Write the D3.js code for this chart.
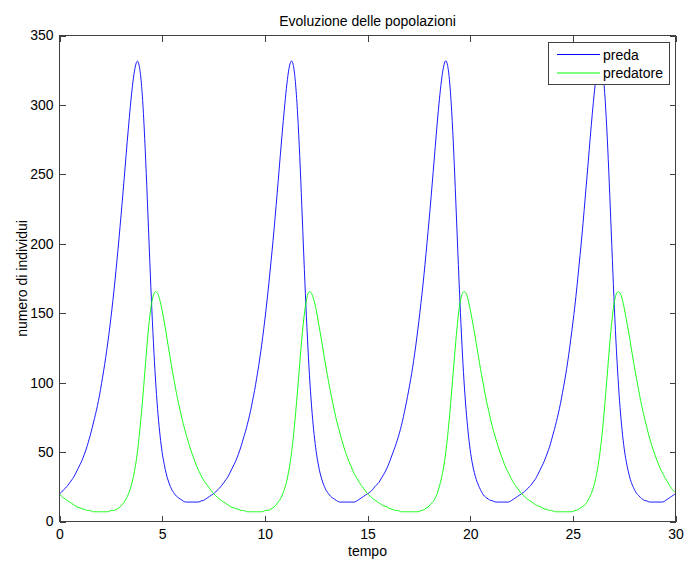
<!DOCTYPE html>
<html><head><meta charset="utf-8">
<script src="https://cdn.jsdelivr.net/npm/d3@7"></script>
<style>body{margin:0;background:#fff}svg{display:block}text{font-family:"Liberation Sans",Arial,Helvetica,sans-serif}</style>
</head><body><div id="chart"></div>
<script>
// ---- data (sampled every 0.1 time units, t = 0 .. 30) ----
const tStep = 0.1;
const prey = [
20,21,23,24,26,28,30,32,35,38,41,44,48,52,57,62,68,74,80,87,
95,104,113,123,134,146,159,173,188,204,221,238,256,274,291,307,320,329,333,328,
315,292,260,224,186,151,121,96,76,61,49,41,34,29,25,22,20,18,17,16,
15,14,14,14,14,14,14,14,14,15,15,16,17,18,19,20,21,23,24,26,
28,30,32,35,38,41,44,48,52,57,62,67,73,79,87,94,103,112,122,133,
145,158,172,187,202,219,236,254,272,289,305,319,329,333,329,316,294,264,228,190,
155,124,98,78,62,50,41,34,29,25,22,20,18,17,16,15,14,14,14,14,
14,14,14,14,14,15,16,17,18,19,20,21,22,24,26,27,29,32,34,37,
40,44,48,52,56,61,66,72,79,86,94,102,111,121,132,144,157,170,185,201,
217,234,252,270,288,304,318,328,333,330,318,297,267,231,194,158,127,100,80,64,
51,42,35,30,26,23,20,18,17,16,15,15,14,14,14,14,14,14,14,14,
15,16,17,18,19,20,21,22,24,25,27,29,31,34,37,40,43,47,51,55,
61,66,72,78,85,93,101,110,120,131,143,155,169,184,199,215,233,250,268,286,
302,317,327,333,331,320,299,270,235,198,161,129,103,81,65,52,43,36,30,26,
23,20,19,17,16,15,15,14,14,14,14,14,14,14,14,15,16,17,18,19,
20];
const predator = [
20,18,17,16,15,14,13,12,11,10,10,9,9,8,8,8,7,7,7,7,
7,7,7,7,7,8,8,8,9,10,11,13,15,18,21,26,32,40,50,64,
79,97,116,134,149,159,165,166,164,159,152,144,135,126,117,108,100,92,85,78,
72,66,61,56,51,47,43,39,36,33,30,28,26,24,22,20,19,17,16,15,
14,13,12,11,10,10,9,9,8,8,8,7,7,7,7,7,7,7,7,7,
8,8,8,9,10,11,13,15,17,21,25,31,39,49,62,78,95,114,132,147,
158,165,166,164,159,153,144,136,127,118,109,101,93,86,79,72,67,61,56,51,
47,43,40,36,33,31,28,26,24,22,20,19,17,16,15,14,13,12,11,11,
10,9,9,8,8,8,7,7,7,7,7,7,7,7,7,7,8,8,9,10,
11,13,14,17,20,25,31,38,48,61,76,94,112,130,146,158,164,166,165,160,
153,145,137,128,119,110,102,94,86,80,73,67,62,57,52,48,44,40,37,34,
31,28,26,24,22,20,19,17,16,15,14,13,12,11,11,10,9,9,8,8,
8,7,7,7,7,7,7,7,7,7,7,8,8,9,10,11,12,14,17,20,
24,30,37,47,59,74,92,110,129,145,157,164,166,165,161,154,146,138,129,120,
111,103,95,87,80,74,68,62,57,52,48,44,40,37,34,31,29,26,24,22,
21];
const xTicks = [0,5,10,15,20,25,30];
const yTicks = [0,50,100,150,200,250,300,350];
const seriesNames = ["preda","predatore"];
const seriesColors = ["#0000ff","#00ff00"];
const title = "Evoluzione delle popolazioni";
const xLabel = "tempo";
const yLabel = "numero di individui";

// ---- chart ----
const W = 685, H = 561;
const L = 59.5, R = 675.5, T = 35.5, B = 521.5;
const axisColor = "#404040";
const svg = d3.select("#chart").append("svg").attr("width", W).attr("height", H);
const x = d3.scaleLinear().domain([0, 30]).range([L, R]);
const y = d3.scaleLinear().domain([0, 350]).range([B, T]);

const fontSize = "14px";
function styleAxis(g){
  g.select(".domain").remove();
  g.selectAll(".tick line").attr("stroke", axisColor).attr("shape-rendering","crispEdges");
  g.selectAll(".tick text").attr("fill","#000").style("font-size", fontSize).style("font-family",'"Liberation Sans",Arial,sans-serif');
}
svg.append("g").attr("transform", `translate(0,${B})`)
  .call(d3.axisBottom(x).tickValues(xTicks).tickSize(-6).tickPadding(8).tickFormat(d3.format("d"))).call(styleAxis);
svg.append("g").attr("transform", `translate(0,${T})`)
  .call(d3.axisTop(x).tickValues(xTicks).tickSize(-6).tickFormat("")).call(styleAxis);
svg.append("g").attr("transform", `translate(${L},0)`)
  .call(d3.axisLeft(y).tickValues(yTicks).tickSize(-6).tickPadding(6).tickFormat(d3.format("d"))).call(styleAxis);
svg.append("g").attr("transform", `translate(${R},0)`)
  .call(d3.axisRight(y).tickValues(yTicks).tickSize(-6).tickFormat("")).call(styleAxis);

// plot clip
svg.append("clipPath").attr("id","clip").append("rect").attr("x",L).attr("y",T).attr("width",R-L).attr("height",B-T);

const line = d3.line().x((d,i)=>x(i*tStep)).y(d=>y(d)).curve(d3.curveBasis);
[prey, predator].forEach((s,k)=>{
  svg.append("path").datum(s).attr("d", line).attr("fill","none")
    .attr("stroke", seriesColors[k]).attr("stroke-width", 0.9).attr("clip-path","url(#clip)");
});

// box
svg.append("rect").attr("x",L).attr("y",T).attr("width",R-L).attr("height",B-T)
  .attr("fill","none").attr("stroke",axisColor).attr("stroke-width",1).attr("shape-rendering","crispEdges");

// title and labels
svg.append("text").attr("x",(L+R)/2).attr("y",26).attr("text-anchor","middle").style("font-size",fontSize).text(title);
svg.append("text").attr("x",(L+R)/2).attr("y",556).attr("text-anchor","middle").style("font-size",fontSize).text(xLabel);
svg.append("text").attr("transform",`translate(26.5,${(T+B)/2}) rotate(-90)`).attr("text-anchor","middle").style("font-size",fontSize).text(yLabel);

// legend
const lg = svg.append("g");
lg.append("rect").attr("x",548.5).attr("y",42.5).attr("width",121).attr("height",42)
  .attr("fill","#fff").attr("stroke",axisColor).attr("shape-rendering","crispEdges");
seriesNames.forEach((n,k)=>{
  const yy = 54.5 + k*18.5;
  lg.append("line").attr("x1",557).attr("x2",600).attr("y1",yy).attr("y2",yy).attr("stroke",seriesColors[k]).attr("stroke-width",1);
  lg.append("text").attr("x",603).attr("y",yy+5).style("font-size",fontSize).text(n);
});
</script></body></html>
